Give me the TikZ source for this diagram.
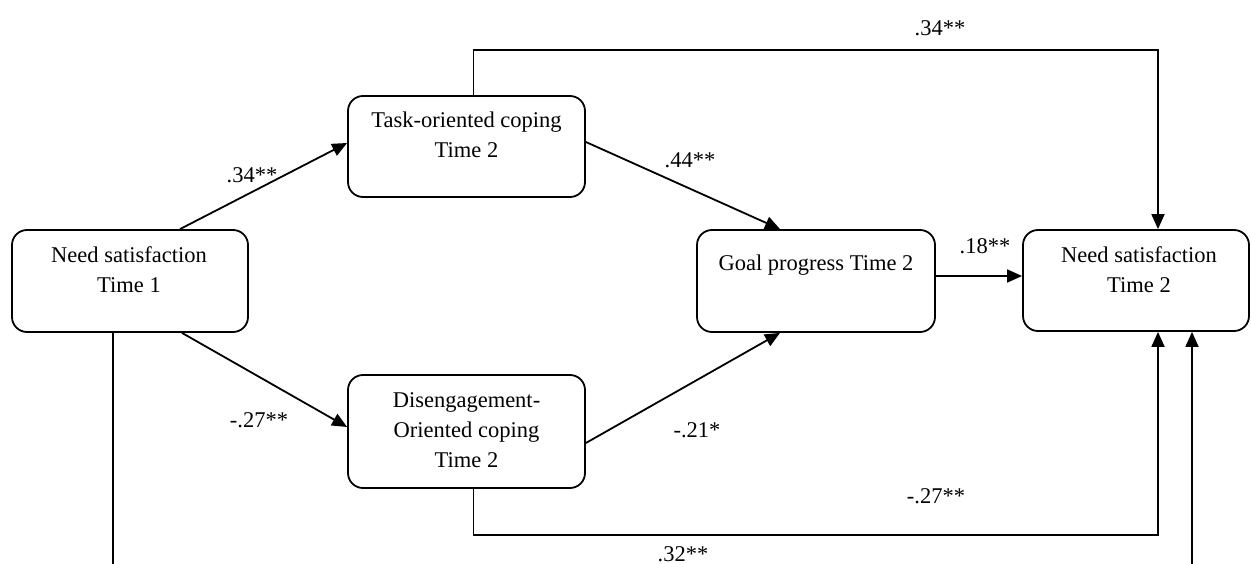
\documentclass[tikz,border=0pt]{standalone}
\usepackage{fontspec}
\setmainfont{Liberation Serif}
\usetikzlibrary{arrows.meta}
\begin{document}
\begin{tikzpicture}[x=1pt,y=-1pt,
  box/.style={draw,line width=1.8pt,rounded corners=15pt,inner sep=0pt},
  txt/.style={align=center,inner sep=0pt,font=\fontsize{22.5}{30}\selectfont},
  lab/.style={inner sep=0pt,font=\fontsize{22.5}{27}\selectfont},
  conn/.style={line width=1.8pt,-{Triangle[length=15pt,width=13pt]}}]
\useasboundingbox (0,0) rectangle (1251,564);
\clip (0,0) rectangle (1251,564);
% boxes
\node[box,minimum width=236pt,minimum height=102pt] (ns1) at (130,281) {};
\node[box,minimum width=237pt,minimum height=101pt] (task) at (466.5,146.5) {};
\node[box,minimum width=237pt,minimum height=113pt] (dis) at (466.5,431.5) {};
\node[box,minimum width=238pt,minimum height=102pt] (goal) at (816,281) {};
\node[box,minimum width=226pt,minimum height=101pt] (ns2) at (1136,280.5) {};
% texts
\node[txt] (t1) at (129,270) {Need satisfaction\\Time 1};
\node[txt] (t2) at (466.5,135) {Task-oriented coping\\Time 2};
\node[txt] (t3) at (466.5,430) {Disengagement-\\Oriented coping\\Time 2};
\node[txt] (t4) at (816,265) {Goal progress Time 2};
\node[txt] (t5) at (1139,270) {Need satisfaction\\Time 2};
% connectors
\draw[conn] ([xshift=50pt]ns1.north) -- ([yshift=3.5pt]task.west);
\draw[conn] ([yshift=4.5pt]task.east) -- ([xshift=-36pt]goal.north);
\draw[conn] ([xshift=52pt]ns1.south) -- ([yshift=4.5pt]dis.west);
\draw[conn] ([yshift=-11.5pt]dis.east) -- ([xshift=-36pt]goal.south);
\draw[conn] ([yshift=5pt]goal.east) -- ([yshift=5pt]goal.east -| ns2.west);
\draw[conn] ([xshift=7pt]task.north) -- ++(0,-45) -| ([xshift=22pt]ns2.north);
\draw[conn] ([xshift=7pt]dis.south) -- ++(0,46) -| ([xshift=22pt]ns2.south);
\draw[conn] ([xshift=-17pt]ns1.south) -- ++(0,300) -| ([xshift=56pt]ns2.south);
% labels
\node[lab] (l1) at (252,175) {.34**};
\node[lab] (l2) at (690,160) {.44**};
\node[lab] (l3) at (259,420) {-.27**};
\node[lab] (l4) at (697,430) {-.21*};
\node[lab] (l5) at (985,246) {.18**};
\node[lab] (l6) at (940,28) {.34**};
\node[lab] (l7) at (936,496) {-.27**};
\node[lab] (l8) at (683,554) {.32**};
\end{tikzpicture}
\end{document}
